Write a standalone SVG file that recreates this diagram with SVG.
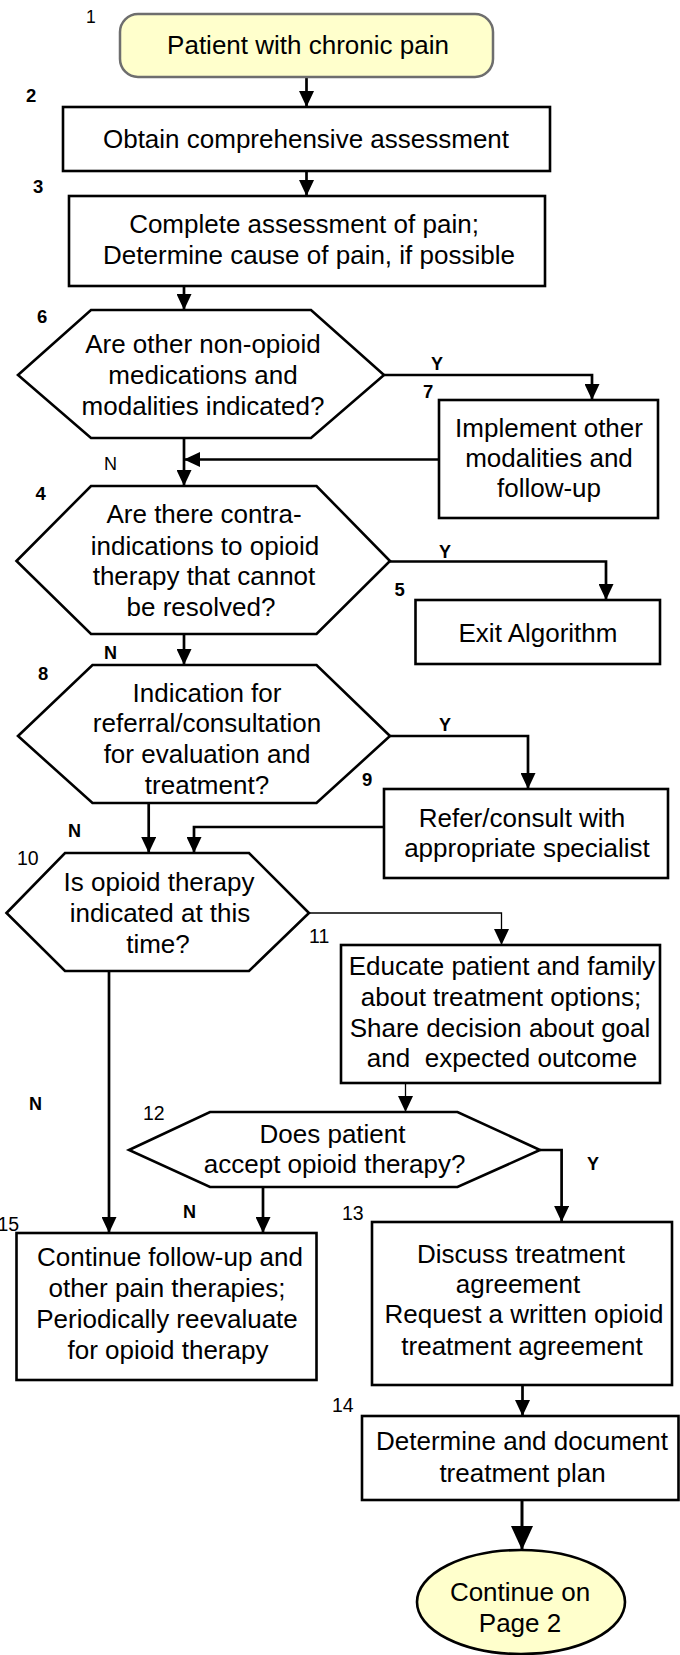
<svg xmlns="http://www.w3.org/2000/svg" width="680" height="1655" viewBox="0 0 680 1655">
<style>
text{font-family:"Liberation Sans",Arial,sans-serif;fill:#000}
.t{font-size:26px;text-anchor:middle}
.num{font-size:19.5px}
.numb{font-size:18.5px;font-weight:bold}
.yn{font-size:18px;font-weight:bold}
.ynr{font-size:18px}
.box{fill:#fff;stroke:#000;stroke-width:2.6}
.term{fill:#FFFFCC;stroke:#000;stroke-width:2.6}
.c{fill:none;stroke:#000;stroke-width:2.7}
.thin{fill:none;stroke:#000;stroke-width:1.3}
</style>
<defs>
<marker id="ah" viewBox="0 0 16 15" markerWidth="16" markerHeight="15" refX="16" refY="7.5" orient="auto" markerUnits="userSpaceOnUse"><path d="M0,0 L16,7.5 L0,15 z" fill="#000"/></marker>
<marker id="ahb" viewBox="0 0 24 22" markerWidth="24" markerHeight="22" refX="24" refY="11" orient="auto" markerUnits="userSpaceOnUse"><path d="M0,0 L24,11 L0,22 z" fill="#000"/></marker>
</defs>
<rect width="680" height="1655" fill="#fff"/>
<g id="connectors">
<path class="c" d="M306.5,77 V107" marker-end="url(#ah)"/>
<path class="c" d="M306.5,171 V196" marker-end="url(#ah)"/>
<path class="c" d="M184,286 V310" marker-end="url(#ah)"/>
<path class="c" d="M384,375 H592 V400" marker-end="url(#ah)"/>
<path class="c" d="M439,459.5 H184" marker-end="url(#ah)"/>
<path class="c" d="M184,438 V486" marker-end="url(#ah)"/>
<path class="c" d="M390,561.5 H606 V600" marker-end="url(#ah)"/>
<path class="c" d="M184,634 V665" marker-end="url(#ah)"/>
<path class="c" d="M390,736 H528 V789" marker-end="url(#ah)"/>
<path class="c" d="M384,827 H194 V853" marker-end="url(#ah)"/>
<path class="c" d="M148.7,803 V853" marker-end="url(#ah)"/>
<path class="thin" d="M309,913 H501.5 V945" marker-end="url(#ah)"/>
<path class="thin" d="M405.5,1083 V1112" marker-end="url(#ah)"/>
<path class="c" d="M540,1150 H561.6 V1222" marker-end="url(#ah)"/>
<path class="c" d="M263,1187 V1233" marker-end="url(#ah)"/>
<path class="c" d="M109,971 V1233" marker-end="url(#ah)"/>
<path class="c" d="M522.5,1385 V1416" marker-end="url(#ah)"/>
<path class="c" style="stroke-width:3" d="M522,1500 V1550" marker-end="url(#ahb)"/>
<text class="yn" x="431" y="370">Y</text>
<text class="ynr" x="104" y="470">N</text>
<text class="yn" x="439" y="558">Y</text>
<text class="yn" x="104" y="659">N</text>
<text class="yn" x="439" y="731">Y</text>
<text class="yn" x="68" y="837">N</text>
<text class="yn" x="29" y="1110">N</text>
<text class="yn" x="587" y="1170">Y</text>
<text class="yn" x="183" y="1218">N</text>
</g>
<g id="n1">
<text class="num" x="86" y="22.5" style="font-size:17.5px">1</text>
<rect x="120" y="14" width="373" height="63" rx="18" ry="18" fill="#FFFFCC" stroke="#6E6E6E" stroke-width="2.5"/>
<text class="t" x="308" y="54">Patient with chronic pain</text>
</g>
<g id="n2">
<text class="numb" x="26" y="101.7">2</text>
<rect class="box" x="63" y="107" width="487" height="64"/>
<text class="t" x="306" y="148">Obtain comprehensive assessment</text>
</g>
<g id="n3">
<text class="numb" x="33" y="193">3</text>
<rect class="box" x="69" y="196" width="476" height="90"/>
<text class="t" x="304" y="233">Complete assessment of pain;</text>
<text class="t" x="309" y="264">Determine cause of pain, if possible</text>
</g>
<g id="n6">
<text class="numb" x="37" y="323">6</text>
<polygon class="box" points="18,375 91,310 311,310 384,375 311,438 91,438"/>
<text class="t" x="203" y="353">Are other non-opioid</text>
<text class="t" x="203" y="384">medications and</text>
<text class="t" x="203" y="415">modalities indicated?</text>
</g>
<g id="n7">
<text class="numb" x="423" y="398">7</text>
<rect class="box" x="439" y="400" width="219" height="118"/>
<text class="t" x="549" y="437">Implement other</text>
<text class="t" x="549" y="467">modalities and</text>
<text class="t" x="549" y="497">follow-up</text>
</g>
<g id="n4">
<text class="numb" x="35.5" y="500">4</text>
<polygon class="box" points="16.5,561 91,486 316.5,486 390,561 316.5,634 91,634"/>
<text class="t" x="204" y="523">Are there contra-</text>
<text class="t" x="205" y="555">indications to opioid</text>
<text class="t" x="204" y="585">therapy that cannot</text>
<text class="t" x="201" y="616">be resolved?</text>
</g>
<g id="n5">
<text class="numb" x="394.6" y="596">5</text>
<rect class="box" x="415.5" y="600" width="244.5" height="64"/>
<text class="t" x="538" y="642">Exit Algorithm</text>
</g>
<g id="n8">
<text class="numb" x="38" y="680">8</text>
<polygon class="box" points="18,736 92.5,665 316.5,665 390,736 316.5,803 92.5,803"/>
<text class="t" x="207" y="702">Indication for</text>
<text class="t" x="207" y="732">referral/consultation</text>
<text class="t" x="207" y="763">for evaluation and</text>
<text class="t" x="207" y="794">treatment?</text>
</g>
<g id="n9">
<text class="numb" x="362" y="786">9</text>
<rect class="box" x="384" y="789" width="284" height="89"/>
<text class="t" x="522" y="827">Refer/consult with</text>
<text class="t" x="527" y="857">appropriate specialist</text>
</g>
<g id="n10">
<text class="num" x="17" y="865">10</text>
<polygon class="box" points="6.5,913 65,853 249,853 309,913 249,971 65,971"/>
<text class="t" x="159" y="891">Is opioid therapy</text>
<text class="t" x="160" y="922">indicated at this</text>
<text class="t" x="158" y="953">time?</text>
</g>
<g id="n11">
<text class="num" x="309" y="943">11</text>
<rect class="box" x="341" y="945" width="319" height="138"/>
<text class="t" x="502" y="975">Educate patient and family</text>
<text class="t" x="501" y="1006">about treatment options;</text>
<text class="t" x="500" y="1037">Share decision about goal</text>
<text class="t" x="502" y="1067" xml:space="preserve">and  expected outcome</text>
</g>
<g id="n12">
<text class="num" x="143" y="1120">12</text>
<polygon class="box" points="129,1150 210,1112 457.5,1112 540,1150 457.5,1187 210,1187"/>
<text class="t" x="332.5" y="1143">Does patient</text>
<text class="t" x="334.6" y="1173">accept opioid therapy?</text>
</g>
<g id="n15">
<text class="num" x="-2.5" y="1231">15</text>
<rect class="box" x="16.5" y="1233" width="300" height="147"/>
<text class="t" x="170" y="1266">Continue follow-up and</text>
<text class="t" x="167" y="1297">other pain therapies;</text>
<text class="t" x="167" y="1328">Periodically reevaluate</text>
<text class="t" x="168" y="1359">for opioid therapy</text>
</g>
<g id="n13">
<text class="num" x="342" y="1220">13</text>
<rect class="box" x="372" y="1222" width="300" height="163"/>
<text class="t" x="521" y="1263">Discuss treatment</text>
<text class="t" x="518" y="1293">agreement</text>
<text class="t" x="524" y="1323">Request a written opioid</text>
<text class="t" x="522" y="1355">treatment agreement</text>
</g>
<g id="n14">
<text class="num" x="332" y="1412">14</text>
<rect class="box" x="362" y="1416" width="316.5" height="84"/>
<text class="t" x="522" y="1450">Determine and document</text>
<text class="t" x="522.5" y="1482">treatment plan</text>
</g>
<g id="n16">
<ellipse class="term" cx="521" cy="1602" rx="104" ry="52"/>
<text class="t" x="520" y="1601">Continue on</text>
<text class="t" x="520" y="1632">Page 2</text>
</g>
</svg>
